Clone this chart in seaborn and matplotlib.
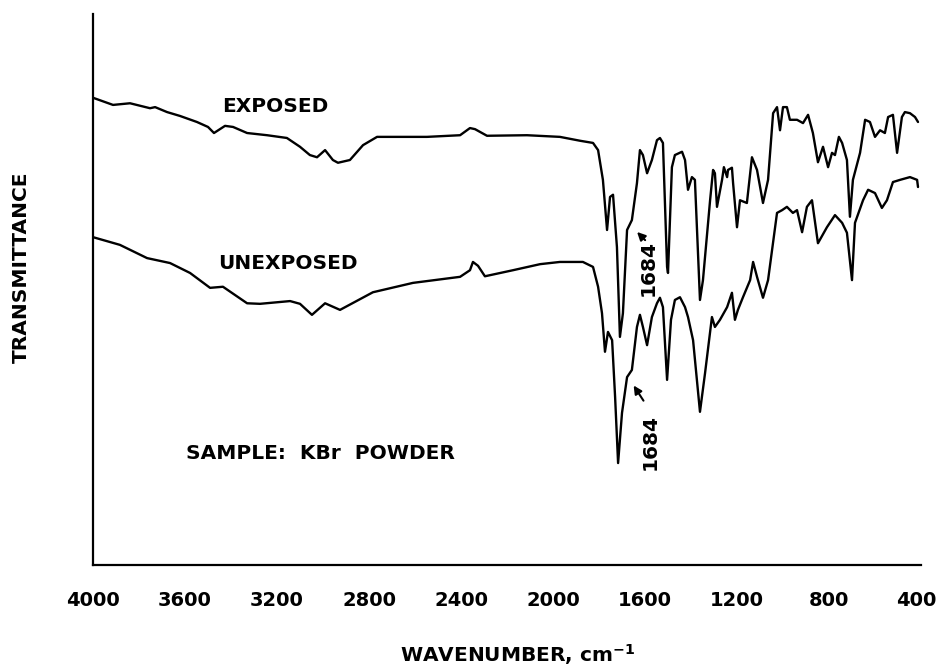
import matplotlib
matplotlib.use("Agg")
import numpy as np
import pandas as pd
import matplotlib.pyplot as plt
import matplotlib.transforms as mtransforms
import seaborn as sns

# ─────────────────────────────────────────────
# DATA  (arbitrary transmittance units)
# ─────────────────────────────────────────────

exposed_wn = [
    4000, 3913, 3839, 3752, 3730, 3678, 3622, 3548, 3500, 3474, 3426, 3391,
    3330, 3243, 3157, 3100, 3057, 3026, 2991, 2957, 2935, 2883, 2826, 2765,
    2696, 2548, 2404, 2361, 2339, 2287, 2113, 1970, 1883, 1826, 1804, 1783,
    1765, 1752, 1739, 1722, 1709, 1696, 1678, 1657, 1635, 1622, 1609, 1591,
    1570, 1548, 1535, 1522, 1504, 1500, 1483, 1470, 1439, 1426, 1413, 1396,
    1383, 1361, 1348, 1317, 1304, 1296, 1287, 1265, 1257, 1243, 1239, 1222,
    1217, 1200, 1187, 1157, 1135, 1113, 1087, 1065, 1043, 1026, 1013, 1000,
    983, 970, 939, 913, 891, 870, 848, 826, 804, 787, 774, 757, 743, 722,
    709, 696, 665, 643, 622, 600, 578, 557, 543, 522, 504, 483, 470, 448,
    426, 413,
]
exposed_t = [
    84.8, 83.5, 83.8, 82.9, 83.1, 82.2, 81.5, 80.4, 79.5, 78.4, 79.7, 79.5,
    78.4, 78.0, 77.5, 75.9, 74.4, 74.0, 75.3, 73.5, 73.0, 73.5, 76.2, 77.7,
    77.7, 77.7, 78.0, 79.3, 79.1, 77.9, 78.0, 77.7, 77.0, 76.6, 75.3, 69.9,
    60.8, 66.8, 67.2, 57.7, 41.4, 45.7, 60.8, 62.6, 69.3, 75.3, 74.4, 71.1,
    73.5, 77.1, 77.5, 76.6, 54.1, 53.0, 72.2, 74.4, 75.0, 73.5, 68.1, 70.4,
    69.9, 48.1, 51.7, 66.2, 71.7, 71.1, 65.0, 69.9, 72.2, 70.4, 71.7, 72.1,
    69.3, 61.3, 66.2, 65.7, 74.0, 71.7, 65.7, 69.9, 82.0, 83.1, 78.9, 83.1,
    83.1, 80.8, 80.8, 80.2, 81.7, 78.4, 73.1, 75.9, 72.2, 74.8, 74.4, 77.7,
    76.6, 73.5, 63.2, 69.9, 74.8, 80.8, 80.4, 77.7, 78.9, 78.4, 81.3, 81.7,
    74.8, 81.3, 82.2, 82.0, 81.3, 80.4,
]

unexposed_wn = [
    4000, 3883, 3765, 3665, 3578, 3491, 3435, 3330, 3274, 3143, 3100, 3048,
    2991, 2926, 2783, 2609, 2404, 2361, 2348, 2326, 2296, 2174, 2056, 1970,
    1870, 1826, 1804, 1787, 1774, 1761, 1743, 1730, 1717, 1700, 1678, 1657,
    1635, 1622, 1609, 1591, 1570, 1548, 1535, 1522, 1504, 1487, 1470, 1448,
    1426, 1413, 1391, 1361, 1339, 1309, 1296, 1274, 1243, 1222, 1209, 1196,
    1174, 1143, 1130, 1113, 1087, 1065, 1026, 1004, 983, 957, 939, 917, 896,
    874, 848, 809, 774, 743, 722, 700, 687, 652, 630, 600, 570, 548, 522,
    491, 448, 417, 413,
]
unexposed_t = [
    59.5, 58.1, 55.7, 54.8, 53.0, 50.3, 50.5, 47.5, 47.4, 47.9, 47.4, 45.4,
    47.5, 46.3, 49.5, 51.2, 52.3, 53.5, 55.0, 54.3, 52.4, 53.5, 54.6, 55.0,
    55.0, 54.1, 50.5, 45.7, 38.7, 42.3, 40.8, 30.5, 18.5, 27.6, 34.1, 35.4,
    43.2, 45.4, 43.2, 39.9, 45.0, 47.5, 48.5, 46.8, 33.6, 44.5, 48.1, 48.6,
    46.8, 45.0, 40.8, 27.8, 34.8, 45.0, 43.2, 44.5, 46.8, 49.4, 44.5, 46.3,
    48.6, 51.7, 55.0, 52.3, 48.5, 51.7, 63.9, 64.4, 65.0, 63.9, 64.4, 60.4,
    65.0, 66.2, 58.4, 61.3, 63.5, 62.1, 60.3, 51.7, 62.1, 66.2, 68.1, 67.5,
    64.8, 66.2, 69.5, 69.9, 70.4, 69.9, 68.6,
]

xticks = [4000, 3600, 3200, 2800, 2400, 2000, 1600, 1200, 800, 400]

# ─────────────────────────────────────────────
# PLOT
# ─────────────────────────────────────────────

sns.set_theme(style="white")
plt.rcParams["font.family"] = ["DejaVu Sans"]
plt.rcParams["font.weight"] = "bold"
plt.rcParams["text.color"] = "black"
plt.rcParams["axes.labelcolor"] = "black"
plt.rcParams["xtick.color"] = "black"

fig = plt.figure(figsize=(9.4, 6.67), dpi=100)
ax = fig.add_axes([93 / 940, 1 - 565 / 667, 828 / 940, 551 / 667])

df_exp = pd.DataFrame({"wn": exposed_wn, "T": exposed_t})
df_unexp = pd.DataFrame({"wn": unexposed_wn, "T": unexposed_t})
sns.lineplot(data=df_exp, x="wn", y="T", ax=ax, color="black", lw=1.7,
             sort=False, estimator=None)
sns.lineplot(data=df_unexp, x="wn", y="T", ax=ax, color="black", lw=1.7,
             sort=False, estimator=None)

ax.set_xlim(4000, 400)
ax.set_ylim(0, 100)
ax.set_xticks(xticks)
ax.set_xticklabels([str(t) for t in xticks], fontsize=14, fontweight="bold")
ax.set_yticks([])
ax.tick_params(axis="x", direction="out", length=9, width=1.5, pad=10,
               color="black", labelcolor="black")
for side in ["top", "right"]:
    ax.spines[side].set_visible(False)
for side in ["left", "bottom"]:
    ax.spines[side].set_color("black")
    ax.spines[side].set_linewidth(1.6)

# nudge the last tick label so it stays inside the canvas
shift = mtransforms.ScaledTranslation(-5 / 100, 0, fig.dpi_scale_trans)
last = ax.get_xticklabels()[-1]
last.set_transform(last.get_transform() + shift)

ax.set_xlabel("WAVENUMBER, cm$^{\\mathbf{-1}}$", fontsize=14.5, fontweight="bold")
ax.xaxis.set_label_coords(0.513, -0.14)
ax.set_ylabel("TRANSMITTANCE", fontsize=14.5, fontweight="bold")
ax.yaxis.set_label_coords(-0.075, 0.54)

txt = dict(fontsize=14.5, fontweight="bold", ha="center", va="center",
           color="black")
ax.text(3209, 83.3, "EXPOSED", **txt)
ax.text(3152, 54.8, "UNEXPOSED", **txt)
ax.text(3013, 20.3, "SAMPLE:  KBr  POWDER", **txt)
ax.text(1587, 53.9, "1684", rotation=90, **txt)
ax.text(1578, 22.3, "1684", rotation=90, **txt)

arrow = dict(arrowstyle="-|>", color="black", lw=1.5, mutation_scale=12)
ax.annotate("", xy=(1643, 60.8), xytext=(1591, 58.6), arrowprops=arrow)
ax.annotate("", xy=(1656, 33.0), xytext=(1600, 29.4), arrowprops=arrow)

plt.savefig("out.png", dpi=100)
plt.close()
